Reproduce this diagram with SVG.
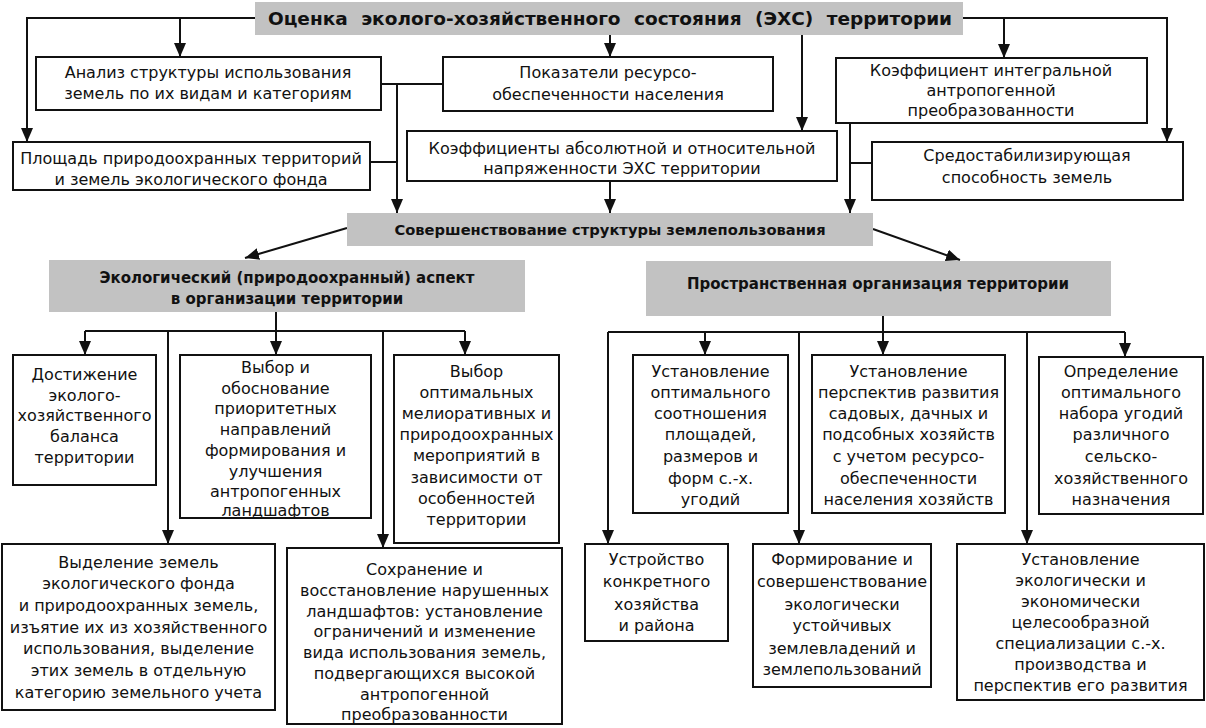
<svg xmlns="http://www.w3.org/2000/svg" width="1206" height="728" viewBox="0 0 1206 728">
<style>
.box{fill:#ffffff;stroke:#111;stroke-width:2}
.gbox{fill:#c2c2c2;stroke:none}
.t{font-family:"DejaVu Sans","Liberation Sans",sans-serif;font-size:16px;fill:#111;text-anchor:middle}
.b{font-family:"DejaVu Sans","Liberation Sans",sans-serif;font-weight:bold;fill:#111;text-anchor:middle}
.c{fill:none;stroke:#111;stroke-width:2}
.ca{fill:none;stroke:#111;stroke-width:2;marker-end:url(#ah)}
</style>
<defs>
<marker id="ah" markerUnits="userSpaceOnUse" viewBox="0 -6 14 12" markerWidth="14" markerHeight="12" refX="14" refY="0" orient="auto">
<path d="M0,-6 L14,0 L0,6 z" fill="#111"/>
</marker>
</defs>
<rect width="1206" height="728" fill="#ffffff"/>

<g id="connectors">
<path class="ca" d="M257,18 H27 V142"/>
<path class="ca" d="M180,18 V57"/>
<path class="ca" d="M610,35 V57"/>
<path class="ca" d="M802,35 V131"/>
<path class="ca" d="M963,18 H1167 V142"/>
<path class="ca" d="M1004,18 V58"/>
<path class="c" d="M381,84 H443"/>
<path class="ca" d="M397,84 V213"/>
<path class="c" d="M370,162 H397"/>
<path class="ca" d="M610,181 V213"/>
<path class="ca" d="M850,123 V213"/>
<path class="c" d="M850,163 H872"/>
<path class="ca" d="M347,228 L245,258"/>
<path class="ca" d="M873,229 L960,260"/>
<path class="c" d="M276,312 V331 M85,331 H465"/>
<path class="ca" d="M85,331 V355"/>
<path class="ca" d="M276,331 V355"/>
<path class="ca" d="M465,331 V355"/>
<path class="ca" d="M168,331 V544"/>
<path class="ca" d="M383,331 V548"/>
<path class="c" d="M883,316 V332 M608,332 H1125"/>
<path class="ca" d="M608,332 V544"/>
<path class="ca" d="M705,332 V355"/>
<path class="ca" d="M883,332 V355"/>
<path class="ca" d="M1125,332 V357"/>
<path class="ca" d="M799,332 V544"/>
<path class="ca" d="M1027,332 V544"/>
</g>

<g id="title">
<rect class="gbox" x="255" y="2" width="708" height="33"/>
<text class="b" x="610" y="25" font-size="18.5" word-spacing="7">Оценка эколого-хозяйственного состояния (ЭХС) территории</text>
</g>

<g id="analiz">
<rect class="box" x="36" y="57" width="345" height="53"/>
<text class="t" x="208" y="78">Анализ структуры использования</text>
<text class="t" x="208" y="99">земель по их видам и категориям</text>
</g>

<g id="pokazateli">
<rect class="box" x="443" y="57" width="330" height="54"/>
<text class="t" x="608" y="78">Показатели ресурсо-</text>
<text class="t" x="608" y="100">обеспеченности населения</text>
</g>

<g id="koef-int">
<rect class="box" x="836" y="58" width="311" height="65"/>
<text class="t" x="991" y="76">Коэффициент интегральной</text>
<text class="t" x="991" y="96">антропогенной</text>
<text class="t" x="991" y="116">преобразованности</text>
</g>

<g id="ploshad">
<rect class="box" x="13" y="142" width="357" height="48"/>
<text class="t" x="191" y="164">Площадь природоохранных территорий</text>
<text class="t" x="191" y="185">и земель экологического фонда</text>
</g>

<g id="koef-abs">
<rect class="box" x="407" y="131" width="430" height="50"/>
<text class="t" x="622" y="154">Коэффициенты абсолютной и относительной</text>
<text class="t" x="622" y="174">напряженности ЭХС территории</text>
</g>

<g id="sredostab">
<rect class="box" x="872" y="142" width="311" height="58"/>
<text class="t" x="1027" y="161">Средостабилизирующая</text>
<text class="t" x="1027" y="183">способность земель</text>
</g>

<g id="sovershenstvovanie">
<rect class="gbox" x="347" y="213" width="526" height="33"/>
<text class="b" x="610" y="235" font-size="14.7">Совершенствование структуры землепользования</text>
</g>

<g id="ekolog">
<rect class="gbox" x="49" y="260" width="476" height="52"/>
<text class="b" x="287" y="283" font-size="15">Экологический (природоохранный) аспект</text>
<text class="b" x="287" y="304" font-size="15">в организации территории</text>
</g>

<g id="prostr">
<rect class="gbox" x="646" y="261" width="465" height="55"/>
<text class="b" x="878" y="289" font-size="15">Пространственная организация территории</text>
</g>

<g id="dostizhenie">
<rect class="box" x="13" y="355" width="143" height="130"/>
<text class="t" x="84.5" y="380">Достижение</text>
<text class="t" x="84.5" y="401">эколого-</text>
<text class="t" x="84.5" y="421">хозяйственного</text>
<text class="t" x="84.5" y="442">баланса</text>
<text class="t" x="84.5" y="463">территории</text>
</g>

<g id="vybor1">
<rect class="box" x="180" y="355" width="191" height="163"/>
<text class="t" x="275.5" y="373">Выбор и</text>
<text class="t" x="275.5" y="394">обоснование</text>
<text class="t" x="275.5" y="414">приоритетных</text>
<text class="t" x="275.5" y="435">направлений</text>
<text class="t" x="275.5" y="456">формирования и</text>
<text class="t" x="275.5" y="477">улучшения</text>
<text class="t" x="275.5" y="497">антропогенных</text>
<text class="t" x="275.5" y="516">ландшафтов</text>
</g>

<g id="vybor2">
<rect class="box" x="394" y="355" width="165" height="188"/>
<text class="t" x="476.5" y="377">Выбор</text>
<text class="t" x="476.5" y="398">оптимальных</text>
<text class="t" x="476.5" y="419">мелиоративных и</text>
<text class="t" x="476.5" y="440">природоохранных</text>
<text class="t" x="476.5" y="461">мероприятий в</text>
<text class="t" x="476.5" y="483">зависимости от</text>
<text class="t" x="476.5" y="504">особенностей</text>
<text class="t" x="476.5" y="525">территории</text>
</g>

<g id="vydelenie">
<rect class="box" x="2" y="544" width="273" height="166"/>
<text class="t" x="138.5" y="568">Выделение земель</text>
<text class="t" x="138.5" y="589">экологического фонда</text>
<text class="t" x="138.5" y="611">и природоохранных земель,</text>
<text class="t" x="138.5" y="633">изъятие их из хозяйственного</text>
<text class="t" x="138.5" y="654">использования, выделение</text>
<text class="t" x="138.5" y="676">этих земель в отдельную</text>
<text class="t" x="138.5" y="698">категорию земельного учета</text>
</g>

<g id="sohranenie">
<rect class="box" x="287" y="548" width="275" height="176"/>
<text class="t" x="424.5" y="575">Сохранение и</text>
<text class="t" x="424.5" y="596">восстановление нарушенных</text>
<text class="t" x="424.5" y="617">ландшафтов: установление</text>
<text class="t" x="424.5" y="637">ограничений и изменение</text>
<text class="t" x="424.5" y="658">вида использования земель,</text>
<text class="t" x="424.5" y="679">подвергающихся высокой</text>
<text class="t" x="424.5" y="700">антропогенной</text>
<text class="t" x="424.5" y="720">преобразованности</text>
</g>

<g id="ust-opt">
<rect class="box" x="633" y="355" width="155" height="158"/>
<text class="t" x="710.5" y="377">Установление</text>
<text class="t" x="710.5" y="398">оптимального</text>
<text class="t" x="710.5" y="419">соотношения</text>
<text class="t" x="710.5" y="440">площадей,</text>
<text class="t" x="710.5" y="462">размеров и</text>
<text class="t" x="710.5" y="484">форм с.-х.</text>
<text class="t" x="710.5" y="505">угодий</text>
</g>

<g id="ust-persp">
<rect class="box" x="812" y="355" width="193" height="158"/>
<text class="t" x="908.5" y="377">Установление</text>
<text class="t" x="908.5" y="398">перспектив развития</text>
<text class="t" x="908.5" y="419">садовых, дачных и</text>
<text class="t" x="908.5" y="440">подсобных хозяйств</text>
<text class="t" x="908.5" y="462">с учетом ресурсо-</text>
<text class="t" x="908.5" y="484">обеспеченности</text>
<text class="t" x="908.5" y="505">населения хозяйств</text>
</g>

<g id="opredelenie">
<rect class="box" x="1039" y="357" width="164" height="157"/>
<text class="t" x="1121" y="377">Определение</text>
<text class="t" x="1121" y="398">оптимального</text>
<text class="t" x="1121" y="419">набора угодий</text>
<text class="t" x="1121" y="440">различного</text>
<text class="t" x="1121" y="462">сельско-</text>
<text class="t" x="1121" y="484">хозяйственного</text>
<text class="t" x="1121" y="505">назначения</text>
</g>

<g id="ustroystvo">
<rect class="box" x="585" y="544" width="143" height="97"/>
<text class="t" x="656.5" y="565">Устройство</text>
<text class="t" x="656.5" y="587">конкретного</text>
<text class="t" x="656.5" y="610">хозяйства</text>
<text class="t" x="656.5" y="631">и района</text>
</g>

<g id="formirovanie">
<rect class="box" x="753" y="544" width="178" height="143"/>
<text class="t" x="842" y="565">Формирование и</text>
<text class="t" x="842" y="587">совершенствование</text>
<text class="t" x="842" y="610">экологически</text>
<text class="t" x="842" y="631">устойчивых</text>
<text class="t" x="842" y="654">землевладений и</text>
<text class="t" x="842" y="675">землепользований</text>
</g>

<g id="ust-ekol">
<rect class="box" x="957" y="544" width="247" height="156"/>
<text class="t" x="1080.5" y="565">Установление</text>
<text class="t" x="1080.5" y="586">экологически и</text>
<text class="t" x="1080.5" y="607">экономически</text>
<text class="t" x="1080.5" y="628">целесообразной</text>
<text class="t" x="1080.5" y="649">специализации с.-х.</text>
<text class="t" x="1080.5" y="670">производства и</text>
<text class="t" x="1080.5" y="691">перспектив его развития</text>
</g>
</svg>
